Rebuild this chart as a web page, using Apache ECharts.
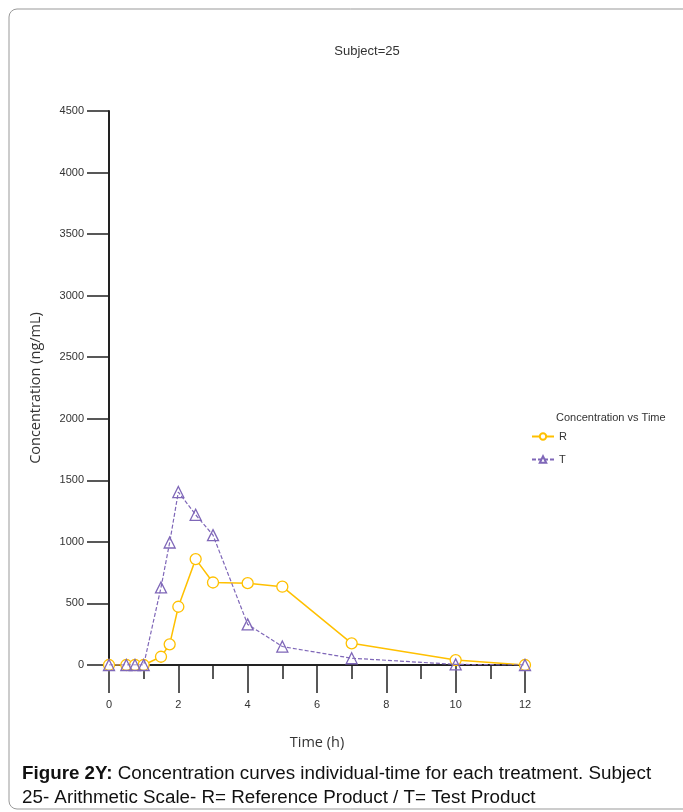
<!DOCTYPE html>
<html><head><meta charset="utf-8">
<script src="https://cdn.jsdelivr.net/npm/echarts@6/dist/echarts.min.js"></script>
<style>html,body{margin:0;padding:0;background:#fff}#c{width:683px;height:812px}</style>
</head><body><div id="c"></div>
<script>
const timeH = [0, 0.5, 0.75, 1, 1.5, 1.75, 2, 2.5, 3, 4, 5, 7, 10, 12];
const concR = [0, 0, 0, 0, 67, 168, 473, 860, 670, 665, 636, 176, 40, 0];
const concT = [0, 0, 0, 0, 630, 995, 1405, 1220, 1055, 330, 150, 55, 5, 0];
const seriesNames = ['R', 'T'];
const chartTitle = 'Subject=25';
const legendTitle = 'Concentration vs Time';
const xTitle = 'Time (h)';
const yTitle = 'Concentration (ng/mL)';
const captionBold = 'Figure 2Y:';
const captionRest1 = ' Concentration curves individual-time for each treatment. Subject';
const captionLine2 = '25- Arithmetic Scale- R= Reference Product / T= Test Product';

const cond = '"Liberation Sans Narrow","Liberation Sans",sans-serif';
const colR = '#FFC000', colT = '#7F67B8';
const capFont = '"Liberation Sans", Arial, sans-serif';
const chart = echarts.init(document.getElementById('c'));
chart.setOption({
  animation: false,
  backgroundColor: '#fff',
  title: { text: chartTitle, left: 362, top: 40, textAlign: 'center',
    textStyle: { fontFamily: cond, fontSize: 13, fontWeight: 'normal', color: '#333' } },
  grid: { left: 109, right: 158, top: 111, bottom: 147 },
  legend: { orient: 'vertical', left: 531, top: 431, padding: 0, itemWidth: 22, itemHeight: 8, itemGap: 12,
    data: seriesNames,
    textStyle: { fontFamily: cond, fontSize: 11, color: '#333' } },
  xAxis: { type: 'value', min: 0, max: 12, interval: 2,
    name: xTitle, nameLocation: 'middle', nameGap: 70,
    nameTextStyle: { fontFamily: 'Open Sans', fontSize: 14.5, color: '#333' },
    axisLine: { onZero: false, lineStyle: { color: '#222', width: 2 } },
    axisTick: { length: 28, lineStyle: { color: '#222', width: 1.5 } },
    minorTick: { show: true, splitNumber: 2, length: 14, lineStyle: { color: '#222', width: 1.5 } },
    axisLabel: { margin: 34, fontFamily: cond, fontSize: 11, color: '#333', formatter: v => String(v) },
    splitLine: { show: false } },
  yAxis: { type: 'value', min: 0, max: 4500, interval: 500,
    name: yTitle, nameLocation: 'middle', nameGap: 66,
    nameTextStyle: { fontFamily: 'Open Sans', fontSize: 14.5, color: '#333' },
    axisLine: { show: true, lineStyle: { color: '#222', width: 2 } },
    axisTick: { show: true, length: 22, lineStyle: { color: '#222', width: 1.5 } },
    axisLabel: { margin: 25, fontFamily: cond, fontSize: 11, color: '#333', formatter: v => String(v) },
    splitLine: { show: false } },
  series: [
    { name: seriesNames[0], type: 'line', data: timeH.map((t, i) => [t, concR[i]]),
      symbol: 'circle', symbolSize: 11, showAllSymbol: true,
      itemStyle: { color: '#fff', borderColor: colR, borderWidth: 1.3 },
      lineStyle: { color: colR, width: 1.5 }, z: 2 },
    { name: seriesNames[1], type: 'line', data: timeH.map((t, i) => [t, concT[i]]),
      symbol: 'triangle', symbolSize: 11, showAllSymbol: true,
      itemStyle: { color: 'rgba(255,255,255,0)', borderColor: colT, borderWidth: 1.3 },
      lineStyle: { color: colT, width: 1.2, type: [4, 2] }, z: 3 }
  ],
  graphic: [
    { type: 'rect', shape: { x: 9, y: 9, width: 690, height: 800, r: 8 }, silent: true,
      style: { fill: 'none', stroke: '#999', lineWidth: 1 }, z: -1 },
    { type: 'text', left: 556, top: 412,
      style: { text: legendTitle, font: '11px ' + cond, fill: '#333' } },
    { type: 'text', left: 22, top: 764,
      style: { text: '{b|' + captionBold + '}{n|' + captionRest1 + '}\n{n|' + captionLine2 + '}',
        font: '18.8px ' + capFont, fill: '#111',
        rich: { b: { fontWeight: 'bold', fontSize: 18.8, fontFamily: capFont, fill: '#111', lineHeight: 24 },
                n: { fontSize: 18.8, fontFamily: capFont, fill: '#111', lineHeight: 24 } } } }
  ]
});
</script></body></html>
